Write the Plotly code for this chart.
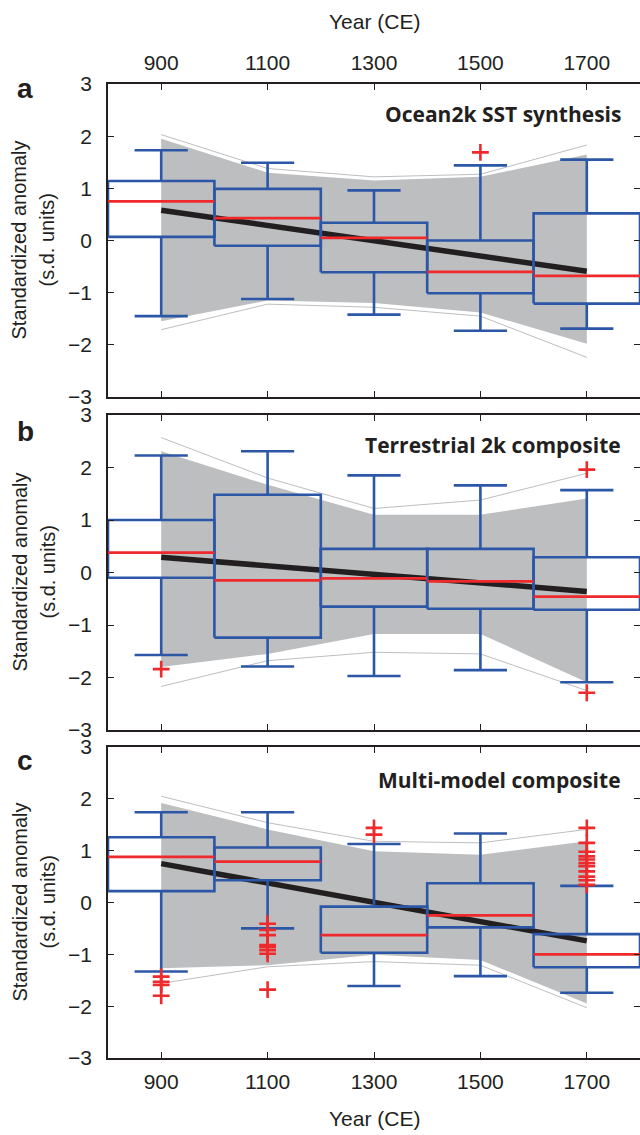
import plotly.graph_objects as go

# ---------------- data ----------------
years = [900, 1100, 1300, 1500, 1700]
box_width_years = 200
cap_width_years = 100

panel_titles = ["Ocean2k SST synthesis", "Terrestrial 2k composite", "Multi-model composite"]
panel_letters = ["a", "b", "c"]

# Panel a
a_q1 = [0.07, -0.10, -0.61, -1.01, -1.21]
a_med = [0.75, 0.43, 0.05, -0.60, -0.68]
a_q3 = [1.14, 0.99, 0.34, 0.00, 0.52]
a_lo = [-1.45, -1.12, -1.42, -1.73, -1.69]
a_hi = [1.73, 1.49, 0.96, 1.44, 1.55]
a_out_x = [1500]
a_out_y = [1.69]
a_trend = [0.58, -0.59]
a_band_hi = [1.95, 1.30, 1.15, 1.22, 1.65]
a_band_lo = [-1.55, -1.15, -1.20, -1.38, -1.98]
a_edge_hi = [2.03, 1.38, 1.22, 1.27, 1.83]
a_edge_lo = [-1.71, -1.22, -1.28, -1.45, -2.24]

# Panel b
b_q1 = [-0.10, -1.24, -0.65, -0.69, -0.71]
b_med = [0.38, -0.15, -0.11, -0.17, -0.46]
b_q3 = [1.00, 1.48, 0.45, 0.45, 0.29]
b_lo = [-1.57, -1.79, -1.97, -1.86, -2.09]
b_hi = [2.23, 2.31, 1.85, 1.66, 1.57]
b_out_x = [900, 1700, 1700]
b_out_y = [-1.84, 1.96, -2.29]
b_trend = [0.29, -0.36]
b_band_hi = [2.31, 1.67, 1.10, 1.10, 1.41]
b_band_lo = [-1.80, -1.55, -1.17, -1.17, -2.09]
b_edge_hi = [2.57, 1.80, 1.22, 1.38, 1.89]
b_edge_lo = [-2.17, -1.68, -1.52, -1.55, -2.25]

# Panel c
c_q1 = [0.22, 0.43, -0.97, -0.48, -1.25]
c_med = [0.88, 0.79, -0.63, -0.25, -1.00]
c_q3 = [1.26, 1.06, -0.08, 0.37, -0.61]
c_lo = [-1.33, -0.50, -1.61, -1.42, -1.74]
c_hi = [1.74, 1.74, 1.13, 1.33, 0.32]
c_out_x = [900, 900, 900, 900,
           1100, 1100, 1100, 1100, 1100, 1100, 1100, 1100,
           1300, 1300,
           1700, 1700, 1700, 1700, 1700, 1700, 1700, 1700, 1700, 1700, 1700]
c_out_y = [-1.43, -1.53, -1.59, -1.80,
           -0.41, -0.53, -0.63, -0.82, -0.86, -0.92, -0.99, -1.68,
           1.44, 1.31,
           1.44, 1.15, 0.98, 0.89, 0.83, 0.76, 0.70, 0.60, 0.50, 0.43, 0.34]
c_trend = [0.75, -0.74]
c_band_hi = [1.92, 1.41, 0.99, 0.92, 1.18]
c_band_lo = [-1.27, -1.21, -1.01, -1.11, -1.95]
c_edge_hi = [2.05, 1.54, 1.18, 1.15, 1.41]
c_edge_lo = [-1.56, -1.24, -1.14, -1.21, -2.03]

y_ticks = [-3, -2, -1, 0, 1, 2, 3]
x_ticks = [900, 1100, 1300, 1500, 1700]

panels = [
    dict(q1=a_q1, med=a_med, q3=a_q3, lo=a_lo, hi=a_hi, ox=a_out_x, oy=a_out_y,
         trend=a_trend, bhi=a_band_hi, blo=a_band_lo, ehi=a_edge_hi, elo=a_edge_lo),
    dict(q1=b_q1, med=b_med, q3=b_q3, lo=b_lo, hi=b_hi, ox=b_out_x, oy=b_out_y,
         trend=b_trend, bhi=b_band_hi, blo=b_band_lo, ehi=b_edge_hi, elo=b_edge_lo),
    dict(q1=c_q1, med=c_med, q3=c_q3, lo=c_lo, hi=c_hi, ox=c_out_x, oy=c_out_y,
         trend=c_trend, bhi=c_band_hi, blo=c_band_lo, ehi=c_edge_hi, elo=c_edge_lo),
]

# ---------------- styling ----------------
BLUE = "#2c56a6"
RED = "#ee2a2c"
BAND = "#bcbec0"
EDGE = "#bdbec0"
INK = "#231f20"
TICKFONT = dict(family="Liberation Sans, Arial, sans-serif", size=21, color=INK)

W, H = 640, 1135
ML, MR, MT, MB = 108, 0, 84, 77
plot_h = H - MT - MB
px_panels = [(84, 397), (415, 730), (747, 1058)]
domains = [[(H - MB - b) / plot_h, (H - MB - t) / plot_h] for t, b in px_panels]

fig = go.Figure()

for i, p in enumerate(panels):
    xa = "x" if i == 0 else f"x{i+1}"
    ya = "y" if i == 0 else f"y{i+1}"
    # ensemble band
    fig.add_trace(go.Scatter(
        x=years + years[::-1], y=p["bhi"] + p["blo"][::-1],
        fill="toself", fillcolor=BAND, line=dict(width=0), mode="lines",
        hoverinfo="skip", showlegend=False, xaxis=xa, yaxis=ya))
    for edge in (p["ehi"], p["elo"]):
        fig.add_trace(go.Scatter(x=years, y=edge, mode="lines",
                                 line=dict(color=EDGE, width=1),
                                 hoverinfo="skip", showlegend=False, xaxis=xa, yaxis=ya))
    # trend
    fig.add_trace(go.Scatter(x=[years[0], years[-1]], y=p["trend"], mode="lines",
                             line=dict(color=INK, width=5.5),
                             showlegend=False, xaxis=xa, yaxis=ya))
    # boxes (outline + whiskers + caps) built from the quartile arrays
    bx, by = [], []
    hw = box_width_years / 2
    cw = cap_width_years / 2
    for yr, q1, q3, lo, hi in zip(years, p["q1"], p["q3"], p["lo"], p["hi"]):
        bx += [yr - hw, yr + hw, yr + hw, yr - hw, yr - hw, None]
        by += [q1, q1, q3, q3, q1, None]
        bx += [yr, yr, None, yr, yr, None]
        by += [q3, hi, None, q1, lo, None]
        bx += [yr - cw, yr + cw, None, yr - cw, yr + cw, None]
        by += [hi, hi, None, lo, lo, None]
    fig.add_trace(go.Scatter(x=bx, y=by, mode="lines",
                             line=dict(color=BLUE, width=2.6),
                             showlegend=False, xaxis=xa, yaxis=ya))
    # medians
    mx, my = [], []
    for yr, m in zip(years, p["med"]):
        mx += [yr - hw, yr + hw, None]
        my += [m, m, None]
    fig.add_trace(go.Scatter(x=mx, y=my, mode="lines", line=dict(color=RED, width=2.8),
                             showlegend=False, xaxis=xa, yaxis=ya))
    # outliers
    fig.add_trace(go.Scatter(x=p["ox"], y=p["oy"], mode="markers",
                             marker=dict(symbol="cross-thin", size=12,
                                         line=dict(color=RED, width=2.6)),
                             showlegend=False, xaxis=xa, yaxis=ya))

layout = dict(
    width=W, height=H, margin=dict(l=ML, r=MR, t=MT, b=MB, autoexpand=False),
    paper_bgcolor="white", plot_bgcolor="white", showlegend=False,
)
for i in range(3):
    xk = "xaxis" if i == 0 else f"xaxis{i+1}"
    yk = "yaxis" if i == 0 else f"yaxis{i+1}"
    yref = "y" if i == 0 else f"y{i+1}"
    layout[xk] = dict(
        range=[800, 1800], tickvals=x_ticks, ticks="inside", ticklen=6,
        tickwidth=1.2, tickcolor=INK, showline=True, linecolor=INK, linewidth=1.8,
        mirror="ticks", showgrid=False, zeroline=False, anchor=yref,
        side="top" if i == 0 else "bottom", automargin=False,
        showticklabels=(i != 1), tickfont=TICKFONT, ticklabelstandoff=4,
        matches=None if i == 0 else "x",
    )
    layout[yk] = dict(
        range=[-3, 3], tickvals=y_ticks, ticks="inside", ticklen=6, tickwidth=1.2,
        tickcolor=INK, showline=True, linecolor=INK, linewidth=1.8, mirror="ticks",
        showgrid=False, zeroline=False, domain=domains[i], tickfont=TICKFONT,
        anchor="x" if i == 0 else f"x{i+1}", ticklabelstandoff=10, automargin=False,
    )
fig.update_layout(**layout)

ann = []
letter_y = [0.985, 0.948, 0.955]
title_y = [0.905, 0.905, 0.895]
for i in range(3):
    yd = ("y" if i == 0 else f"y{i+1}") + " domain"
    ann.append(dict(text=f"<b>{panel_letters[i]}</b>", xref="paper", yref=yd,
                    x=(25 - ML) / (W - ML), y=letter_y[i], xanchor="center", yanchor="middle",
                    showarrow=False,
                    font=dict(family="Liberation Sans, Arial", size=28, color=INK)))
    ann.append(dict(text=f"<b>{panel_titles[i]}</b>", xref="paper", yref=yd,
                    x=(623 - ML) / (W - ML), y=title_y[i], xanchor="right", yanchor="middle",
                    showarrow=False,
                    font=dict(family="Open Sans, Noto Sans", size=21, color=INK)))
    ann.append(dict(text="Standardized anomaly", xref="paper", yref=yd,
                    x=(19 - ML) / (W - ML), y=0.5, textangle=-90, xanchor="center",
                    yanchor="middle", showarrow=False,
                    font=dict(family="Liberation Sans, Arial", size=20, color=INK)))
    ann.append(dict(text="(s.d. units)", xref="paper", yref=yd,
                    x=(47 - ML) / (W - ML), y=0.5, textangle=-90, xanchor="center",
                    yanchor="middle", showarrow=False,
                    font=dict(family="Liberation Sans, Arial", size=20, color=INK)))
ann.append(dict(text="Year (CE)", xref="paper", yref="paper", x=0.5,
                y=(H - MB - 22) / plot_h, xanchor="center", yanchor="middle", showarrow=False,
                font=dict(family="Liberation Sans, Arial", size=21, color=INK)))
ann.append(dict(text="Year (CE)", xref="paper", yref="paper", x=0.5,
                y=(H - MB - 1118) / plot_h, xanchor="center", yanchor="middle", showarrow=False,
                font=dict(family="Liberation Sans, Arial", size=21, color=INK)))
fig.update_layout(annotations=ann)

fig.write_html(
    "out.html",
    config={"displayModeBar": False},
    post_script="document.body.style.margin='0';document.body.style.padding='0';",
)
